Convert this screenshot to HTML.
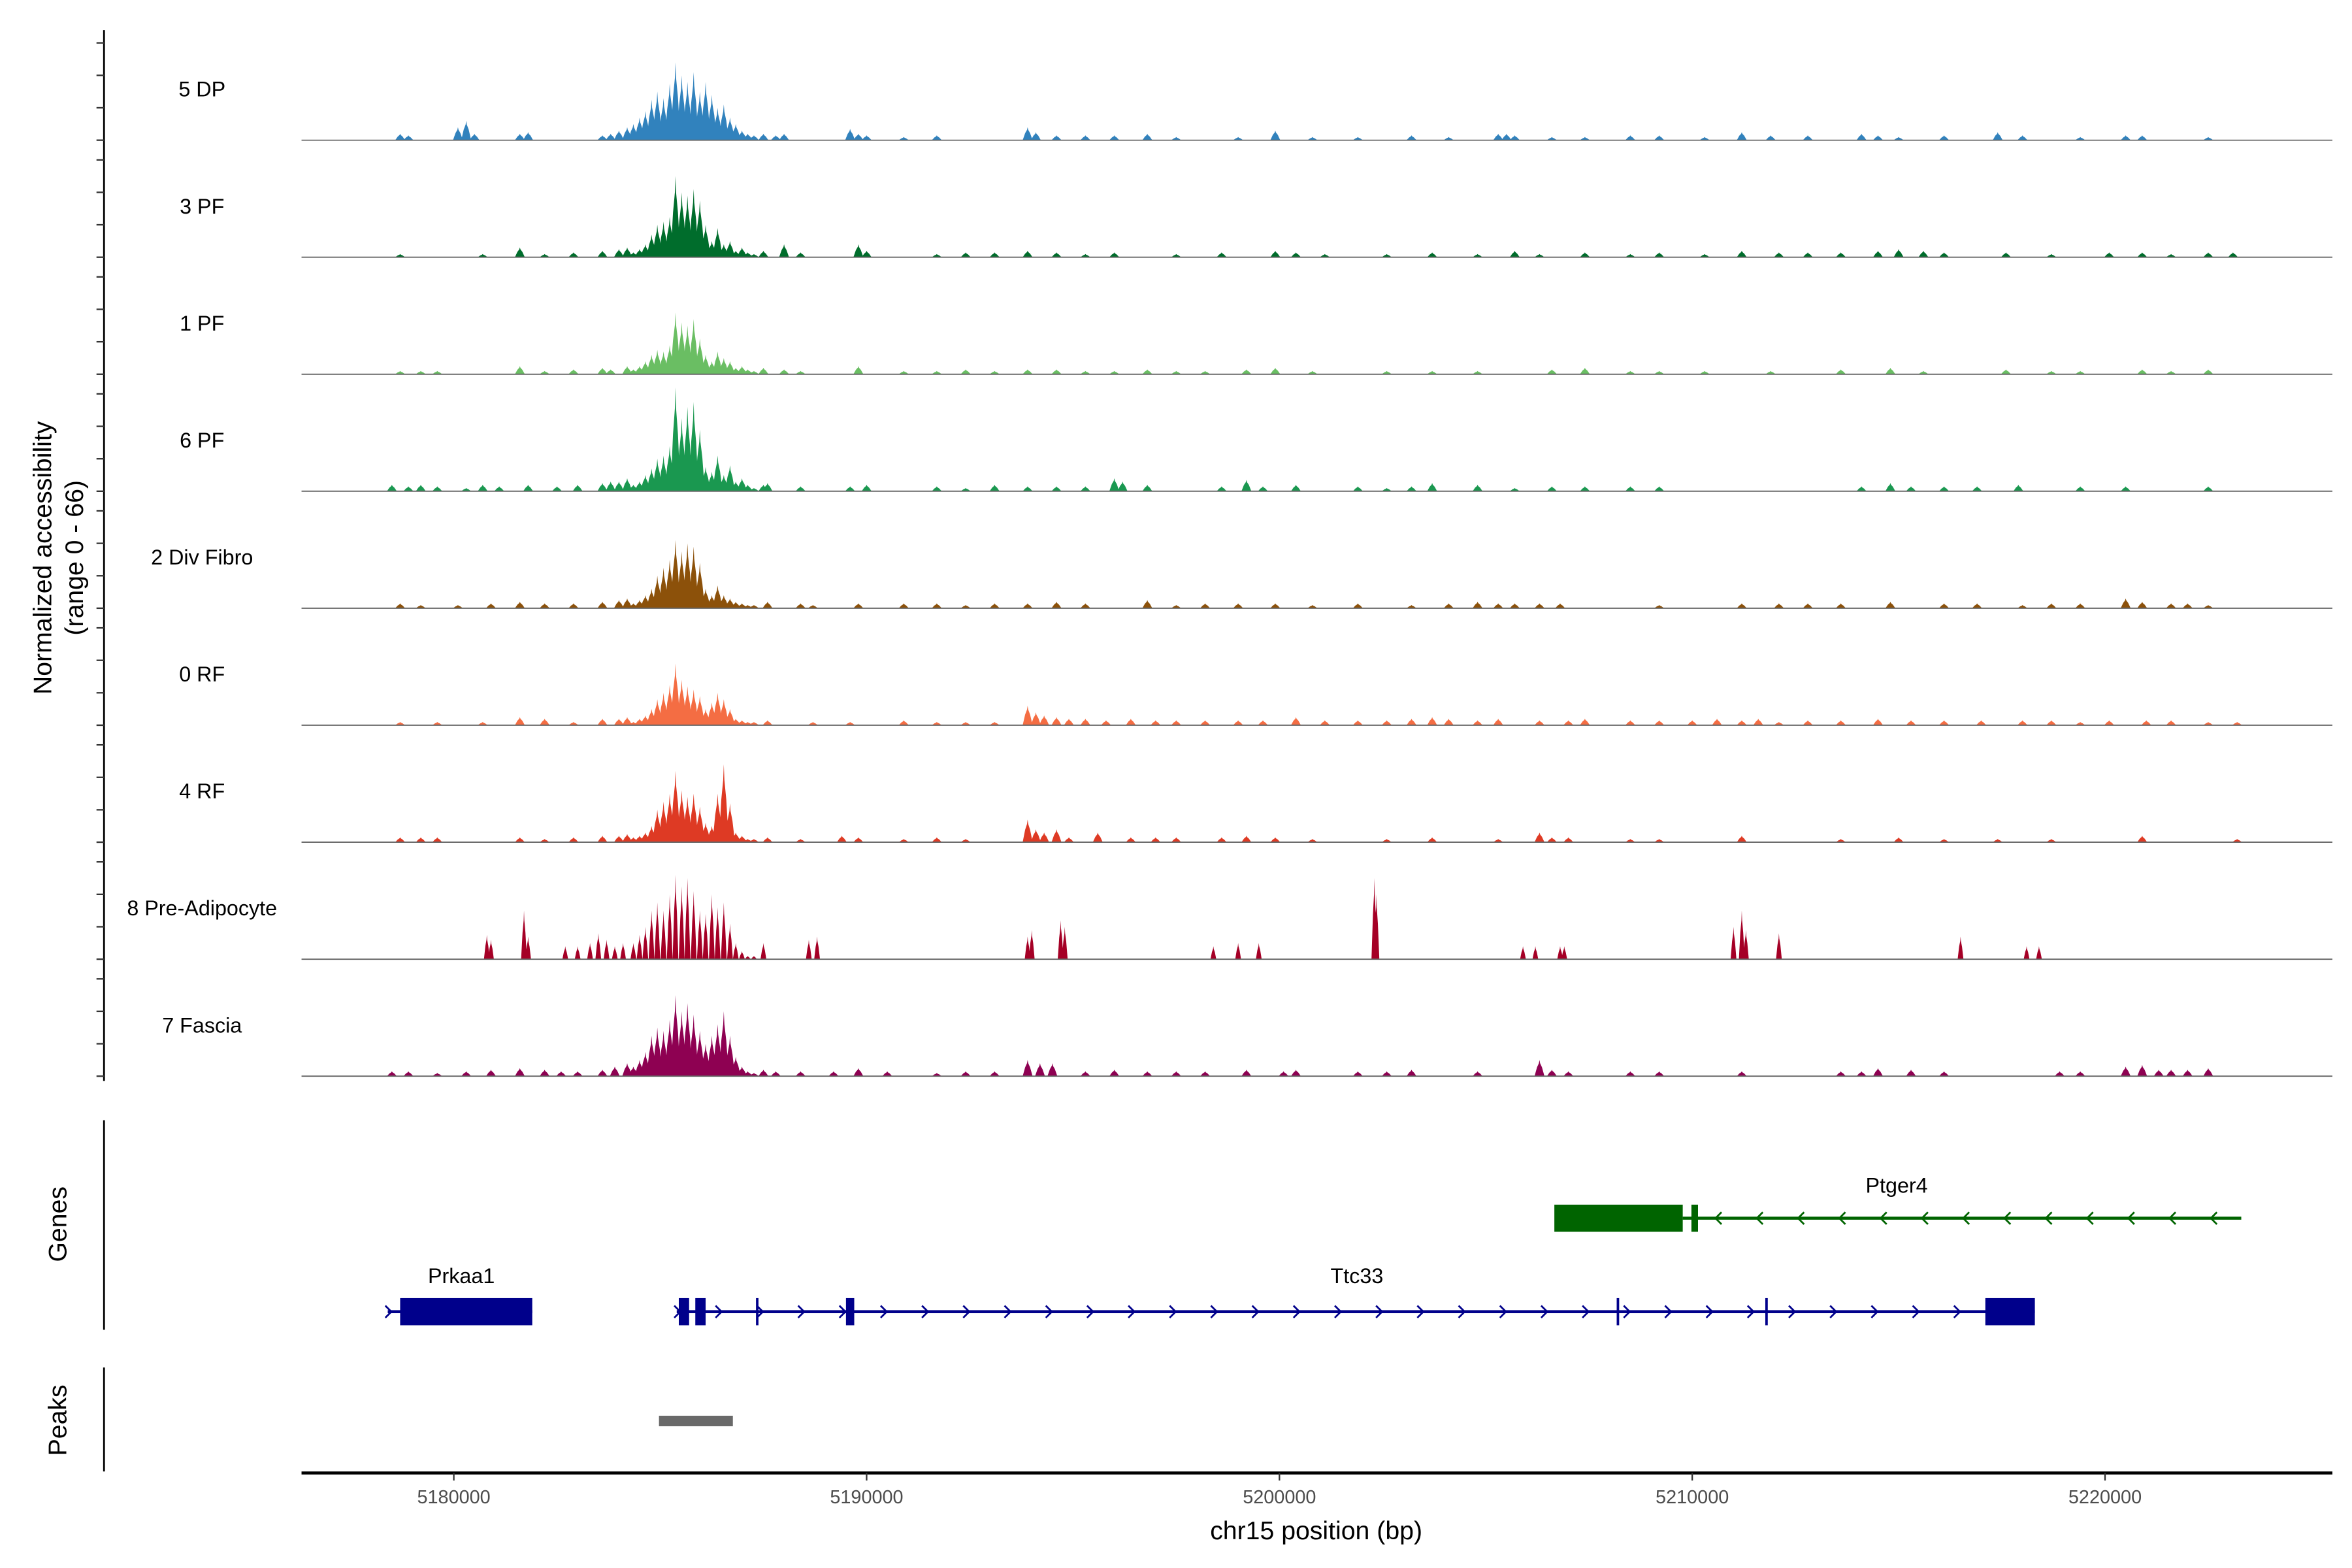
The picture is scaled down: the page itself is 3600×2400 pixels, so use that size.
<!DOCTYPE html>
<html><head><meta charset="utf-8"><style>
html,body{margin:0;padding:0;background:#fff;}
svg{display:block;font-family:"Liberation Sans",Arial,sans-serif;}
</style></head><body>
<svg id="chart" width="3600" height="2400" viewBox="0 0 1560 1040" xmlns="http://www.w3.org/2000/svg">
<rect width="1560" height="1040" fill="#fff"/>
<g id="tracks"></g>
<g id="yaxis"></g>
<text transform="translate(34,370) rotate(-90)" text-anchor="middle" font-size="17" fill="#000">Normalized accessibility</text>
<text transform="translate(55,370) rotate(-90)" text-anchor="middle" font-size="17" fill="#000">(range 0 - 66)</text>
<line x1="69" y1="743" x2="69" y2="882" stroke="#000" stroke-width="1.2"/>
<text transform="translate(44,812) rotate(-90)" text-anchor="middle" font-size="17">Genes</text>
<line x1="69" y1="907" x2="69" y2="976" stroke="#000" stroke-width="1.2"/>
<text transform="translate(44,942) rotate(-90)" text-anchor="middle" font-size="17">Peaks</text>
<g id="genes"></g>
<g id="peaks"></g>
<g id="xaxis"></g>
<text x="873" y="1021" text-anchor="middle" font-size="17">chr15 position (bp)</text>
</svg>
<script>
const NS="http://www.w3.org/2000/svg";
// ---- data ----
const trackNames=["5 DP","3 PF","1 PF","6 PF","2 Div Fibro","0 RF","4 RF","8 Pre-Adipocyte","7 Fascia"];
const trackColors=["#3182BD","#006D2C","#6ABE63","#1A9850","#8C510A","#F46D43","#DE3A24","#A50026","#8E0152"];
const yTicks=[0,20,40,60];
const xTicks=[5180000,5190000,5200000,5210000,5220000];
const mainPos=[5184.35,5184.50,5184.64,5184.79,5184.93,5185.08,5185.23,5185.37,5185.52,5185.66,5185.81,5185.96,5186.10,5186.25,5186.39,5186.54,5186.69,5186.83,5186.98,5187.12,5187.27];
const main5DP=[10,14,18,25,30,26,35,48,40,36,42,30,36,28,20,22,14,10,6,4,3];
const main3PF=[3,5,8,14,20,22,25,50,40,38,42,35,20,10,18,8,10,4,6,3,2];
const main1PF=[3,5,8,12,15,14,18,38,32,30,34,22,12,8,14,10,8,4,5,3,2];
const main6PF=[4,6,10,14,20,22,28,64,45,52,55,38,15,12,22,10,16,6,8,4,2];
const main2DF=[3,5,8,12,20,25,30,42,35,40,38,28,12,8,14,8,6,4,3,2,2];
const main0RF=[2,4,6,10,16,20,25,38,28,24,22,18,10,14,20,16,10,4,3,2,2];
const main4RF=[3,4,6,10,20,25,30,44,32,28,30,22,12,10,30,48,24,6,4,2,2];
const main8PA=[10,15,20,30,35,30,40,52,45,50,42,30,28,40,32,35,22,10,5,2,2];
const main7FA=[6,10,15,25,30,28,35,50,40,45,38,28,20,25,32,40,25,12,6,3,2];
const bgPos5DP=[5178.7,5178.9,5180.1,5180.3,5180.5,5181.6,5181.8,5183.6,5183.8,5184.0,5184.2,5187.5,5187.8,5188.0,5189.6,5189.8,5190.0,5190.9,5191.7,5193.9,5194.1,5194.6,5195.3,5196.0,5196.8,5197.5,5199.0,5199.9,5200.8,5201.9,5203.2,5204.1,5205.3,5205.5,5205.7,5206.6,5207.4,5208.5,5209.2,5210.3,5211.2,5211.9,5212.8,5214.1,5214.5,5215.0,5216.1,5217.4,5218.0,5219.4,5220.5,5220.9,5222.5];
const bgVal5DP=[4,3,8,12,4,4,5,3,4,6,8,4,3,4,7,4,3,2,3,8,5,3,3,3,4,2,2,6,2,2,3,2,4,4,3,2,2,3,3,2,5,3,3,4,3,2,3,5,3,2,3,3,2];
const bgPos3PF=[5178.7,5180.7,5181.6,5182.2,5182.9,5183.6,5184.0,5184.2,5187.5,5188.0,5188.4,5189.8,5190.0,5191.7,5192.4,5193.1,5193.9,5194.6,5195.3,5196.0,5197.5,5198.6,5199.9,5200.4,5201.1,5202.6,5203.7,5204.8,5205.7,5206.3,5207.4,5208.5,5209.2,5210.3,5211.2,5212.1,5212.8,5213.6,5214.5,5215.0,5215.6,5216.1,5217.6,5218.7,5220.1,5220.9,5221.6,5222.5,5223.1];
const bgVal3PF=[2,2,6,2,3,4,5,6,4,8,3,8,4,2,3,3,4,3,2,3,2,3,4,3,2,2,3,2,4,2,3,2,3,2,4,3,3,3,4,5,4,3,3,2,3,3,2,3,3];
const bgPos1PF=[5178.7,5179.2,5179.6,5181.6,5182.2,5182.9,5183.6,5183.8,5184.2,5187.5,5188.0,5188.4,5189.8,5190.9,5191.7,5192.4,5193.1,5193.9,5194.6,5195.3,5196.0,5196.8,5197.5,5198.2,5199.2,5199.9,5200.8,5202.6,5203.7,5204.8,5206.6,5207.4,5208.5,5209.2,5210.3,5211.9,5213.6,5214.8,5215.6,5217.6,5218.7,5219.4,5220.9,5221.6,5222.5];
const bgVal1PF=[2,2,2,5,2,3,4,3,5,4,3,2,5,2,2,3,2,3,3,2,2,3,2,2,3,4,2,2,2,2,3,4,2,2,2,2,3,4,2,3,2,2,3,2,3];
const bgPos6PF=[5178.5,5178.9,5179.2,5179.6,5180.3,5180.7,5181.1,5181.8,5182.5,5183.0,5183.6,5183.8,5184.0,5184.2,5187.5,5187.6,5188.4,5189.6,5190.0,5191.7,5192.4,5193.1,5193.9,5194.6,5195.3,5196.0,5196.2,5196.8,5198.6,5199.2,5199.6,5200.4,5201.9,5202.6,5203.2,5203.7,5204.8,5205.7,5206.6,5207.4,5208.5,5209.2,5214.1,5214.8,5215.3,5216.1,5216.9,5217.9,5219.4,5220.5,5222.5];
const bgVal6PF=[4,3,4,3,2,4,3,4,3,4,5,6,6,8,4,5,3,3,4,3,2,4,3,3,3,8,6,4,3,7,3,4,3,2,3,5,4,2,3,3,3,3,3,5,3,3,3,4,3,3,3];
const bgPos2DF=[5178.7,5179.2,5180.1,5180.9,5181.6,5182.2,5182.9,5183.6,5184.0,5184.2,5187.6,5188.4,5188.7,5189.8,5190.9,5191.7,5192.4,5193.1,5193.9,5194.6,5195.3,5196.8,5197.5,5198.2,5199.0,5199.9,5200.8,5201.9,5203.2,5204.1,5204.8,5205.3,5205.7,5206.3,5206.8,5209.2,5211.2,5212.1,5212.8,5213.6,5214.8,5216.1,5216.9,5218.0,5218.7,5219.4,5220.5,5220.9,5221.6,5222.0,5222.5];
const bgVal2DF=[3,2,2,3,4,3,3,4,5,6,4,3,2,3,3,3,2,3,3,4,3,5,2,3,3,3,2,3,2,3,4,3,3,3,3,2,3,3,3,3,4,3,3,2,3,3,6,4,3,3,2];
const bgPos0RF=[5178.7,5179.6,5180.7,5181.6,5182.2,5182.9,5183.6,5184.0,5184.2,5187.6,5188.7,5189.6,5190.9,5191.7,5192.4,5193.1,5193.9,5194.1,5194.3,5194.6,5194.9,5195.3,5195.8,5196.4,5197.0,5197.5,5198.2,5199.0,5199.6,5200.4,5201.1,5201.9,5202.6,5203.2,5203.7,5204.1,5204.8,5205.3,5206.3,5207.0,5207.4,5208.5,5209.2,5210.0,5210.6,5211.2,5211.6,5212.1,5212.8,5213.6,5214.5,5215.3,5216.1,5217.0,5218.0,5218.7,5219.4,5220.1,5221.0,5221.6,5222.5,5223.2];
const bgVal0RF=[2,2,2,5,4,2,4,4,5,3,2,2,3,2,2,2,12,8,6,5,4,4,3,4,3,3,3,3,3,5,3,3,3,4,5,4,3,4,3,3,4,3,3,3,4,3,4,2,3,3,4,3,3,3,3,3,2,3,3,3,2,2];
const bgPos4RF=[5178.7,5179.2,5179.6,5181.6,5182.2,5182.9,5183.6,5184.0,5184.2,5187.6,5188.4,5189.4,5189.8,5190.9,5191.7,5192.4,5193.9,5194.1,5194.3,5194.6,5194.9,5195.6,5196.4,5197.0,5197.5,5198.6,5199.2,5199.9,5200.8,5202.6,5203.7,5205.3,5206.3,5206.6,5207.0,5208.5,5209.2,5211.2,5213.6,5215.0,5216.1,5217.4,5218.7,5220.9,5223.2];
const bgVal4RF=[3,3,3,3,2,3,4,4,5,3,2,4,3,2,3,2,14,8,6,8,3,6,3,3,3,3,4,3,2,2,3,2,6,3,3,2,2,4,2,3,2,2,2,4,2];
const bgPos8PA=[5180.8,5180.9,5181.7,5181.8,5182.7,5183.0,5183.3,5183.5,5183.7,5183.9,5184.1,5187.5,5188.6,5188.8,5193.9,5194.0,5194.7,5194.8,5198.4,5199.0,5199.5,5202.3,5202.35,5205.9,5206.2,5206.8,5206.9,5211.0,5211.2,5211.3,5212.1,5216.5,5218.1,5218.4];
const bgVal8PA=[15,12,30,14,8,8,10,16,12,8,10,10,12,14,14,18,24,20,8,10,10,50,40,8,8,8,8,20,30,18,16,14,8,8];
const bgPos7FA=[5178.5,5178.9,5179.6,5180.3,5180.9,5181.6,5182.2,5182.6,5183.0,5183.6,5183.9,5184.2,5187.5,5187.8,5188.4,5189.2,5189.8,5190.5,5191.7,5192.4,5193.1,5193.9,5194.2,5194.5,5195.3,5196.0,5196.8,5197.5,5198.2,5199.2,5200.1,5200.4,5201.9,5202.6,5203.2,5204.8,5206.3,5206.6,5207.0,5208.5,5209.2,5211.2,5213.6,5214.1,5214.5,5215.3,5216.1,5218.9,5219.4,5220.5,5220.9,5221.3,5221.6,5222.0,5222.5];
const bgVal7FA=[3,3,2,3,4,5,4,3,3,4,6,8,4,3,3,3,5,3,2,3,3,10,8,8,3,4,3,3,3,4,3,4,3,3,4,3,10,4,3,3,3,3,3,3,5,4,3,3,3,6,7,4,4,4,5];
const mainVals=[main5DP,main3PF,main1PF,main6PF,main2DF,main0RF,main4RF,main8PA,main7FA];
const bgPositions=[bgPos5DP,bgPos3PF,bgPos1PF,bgPos6PF,bgPos2DF,bgPos0RF,bgPos4RF,bgPos8PA,bgPos7FA];
const bgValues=[bgVal5DP,bgVal3PF,bgVal1PF,bgVal6PF,bgVal2DF,bgVal0RF,bgVal4RF,bgVal8PA,bgVal7FA];
// genes (kb)
const prkaa1Line=[5178.4,5181.9];
const prkaa1Exons=[[5178.7,5181.9]];
const ttc33Line=[5185.4,5218.3];
const ttc33Exons=[[5185.45,5185.7],[5185.85,5186.1],[5187.32,5187.38],[5189.5,5189.7],[5208.17,5208.23],[5211.77,5211.83],[5217.1,5218.3]];
const ptger4Line=[5209.77,5223.3];
const ptger4Exons=[[5206.66,5209.77],[5209.98,5210.14]];
const peakRegions=[[5184.97,5186.76]];
// ---- scales ----
const X0=301, PXKB=27.38;
function xs(kb){return X0+(kb-5180)*PXKB;}
const baseY0=93, trackH=77.6, YPX=71/66;
function ys(i,v){return baseY0+i*trackH-v*YPX;}
function mk(tag,attrs,parent){const e=document.createElementNS(NS,tag);for(const k in attrs)e.setAttribute(k,attrs[k]);parent.appendChild(e);return e;}
const tracks=document.getElementById('tracks');
const HW=0.12;
trackNames.forEach((nm,i)=>{
  const g=mk('g',{},tracks);
  
  
  const b=ys(i,0);
  let d='';
  const pts=[];
  mainPos.forEach((p,j)=>pts.push([p,mainVals[i][j]]));
  bgPositions[i].forEach((p,j)=>pts.push([p,bgValues[i][j]]));
  pts.forEach(([p,v])=>{
    const hw=(i===7)?0.07:HW;
    d+=`M${xs(p-hw).toFixed(2)},${b}L${xs(p-hw*0.5).toFixed(2)},${ys(i,v*0.55).toFixed(2)}L${xs(p-hw*0.12).toFixed(2)},${ys(i,v*0.8).toFixed(2)}L${xs(p).toFixed(2)},${ys(i,v).toFixed(2)}L${xs(p+hw*0.12).toFixed(2)},${ys(i,v*0.8).toFixed(2)}L${xs(p+hw*0.5).toFixed(2)},${ys(i,v*0.55).toFixed(2)}L${xs(p+hw).toFixed(2)},${b}Z`;
  });
  const path=mk('path',{d:d,fill:trackColors[i]},g);
  
  
  const bl=mk('line',{x1:200,x2:1547,y1:b,y2:b,stroke:'#666','stroke-width':0.8},g);
  
  
  const t=mk('text',{x:134,y:b-29,'text-anchor':'middle','font-size':14},g);
  t.textContent=nm;
  
  
});
// y axis
const ya=document.getElementById('yaxis');
mk('line',{x1:69,x2:69,y1:20,y2:717,stroke:'#000','stroke-width':1.2},ya);
trackNames.forEach((nm,i)=>{
  yTicks.forEach(v=>{
    const tk=mk('line',{x1:64,x2:69,y1:ys(i,v),y2:ys(i,v),stroke:'#333','stroke-width':1},ya);
    
    
  });
});
// genes
const gg=document.getElementById('genes');
function drawGene(line,exons,y,col,dir,name,labelX,labelY,chevFrom,chevTo){
  const g=mk('g',{},gg);
  
  
  mk('line',{x1:xs(line[0]),x2:xs(line[1]),y1:y,y2:y,stroke:col,'stroke-width':2},g);
  for(let k=chevFrom;k<=chevTo;k+=1){
    const x=xs(k);
    const d=dir>0?`M${x-3},${y-4}L${x+1},${y}L${x-3},${y+4}`:`M${x+3},${y-4}L${x-1},${y}L${x+3},${y+4}`;
    mk('path',{d:d,stroke:col,fill:'none','stroke-width':1.2},g);
  }
  exons.forEach(e=>{
    const w=Math.max(xs(e[1])-xs(e[0]),1.5);
    const r=mk('rect',{x:xs(e[0]),y:y-9,width:w,height:18,fill:col},g);
    
    
  });
  const t=mk('text',{x:labelX,y:labelY,'text-anchor':'middle','font-size':14},g);
  t.textContent=name;
  
  
}
drawGene(prkaa1Line,prkaa1Exons,870,'#00008B',1,'Prkaa1',306,851,5178.45,5178.45);
drawGene(ttc33Line,ttc33Exons,870,'#00008B',1,'Ttc33',900,851,5185.45,5217);
drawGene(ptger4Line,ptger4Exons,808,'#006400',-1,'Ptger4',1258,791,5210.6,5222.6);
// peaks
const pk=document.getElementById('peaks');
peakRegions.forEach(r=>{
  const e=mk('rect',{x:xs(r[0]),y:939,width:xs(r[1])-xs(r[0]),height:7,fill:'#696969'},pk);
  
  
});
// x axis
const xa=document.getElementById('xaxis');
mk('line',{x1:200,x2:1547,y1:977,y2:977,stroke:'#000','stroke-width':2},xa);
xTicks.forEach(v=>{
  const x=xs(v/1000);
  const tk=mk('line',{x1:x,x2:x,y1:977,y2:982,stroke:'#333','stroke-width':1},xa);
  
  
  const t=mk('text',{x:x,y:997,'text-anchor':'middle','font-size':12.5,fill:'#4d4d4d'},xa);
  t.textContent=String(v);
  
  
});
</script>
</body></html>
